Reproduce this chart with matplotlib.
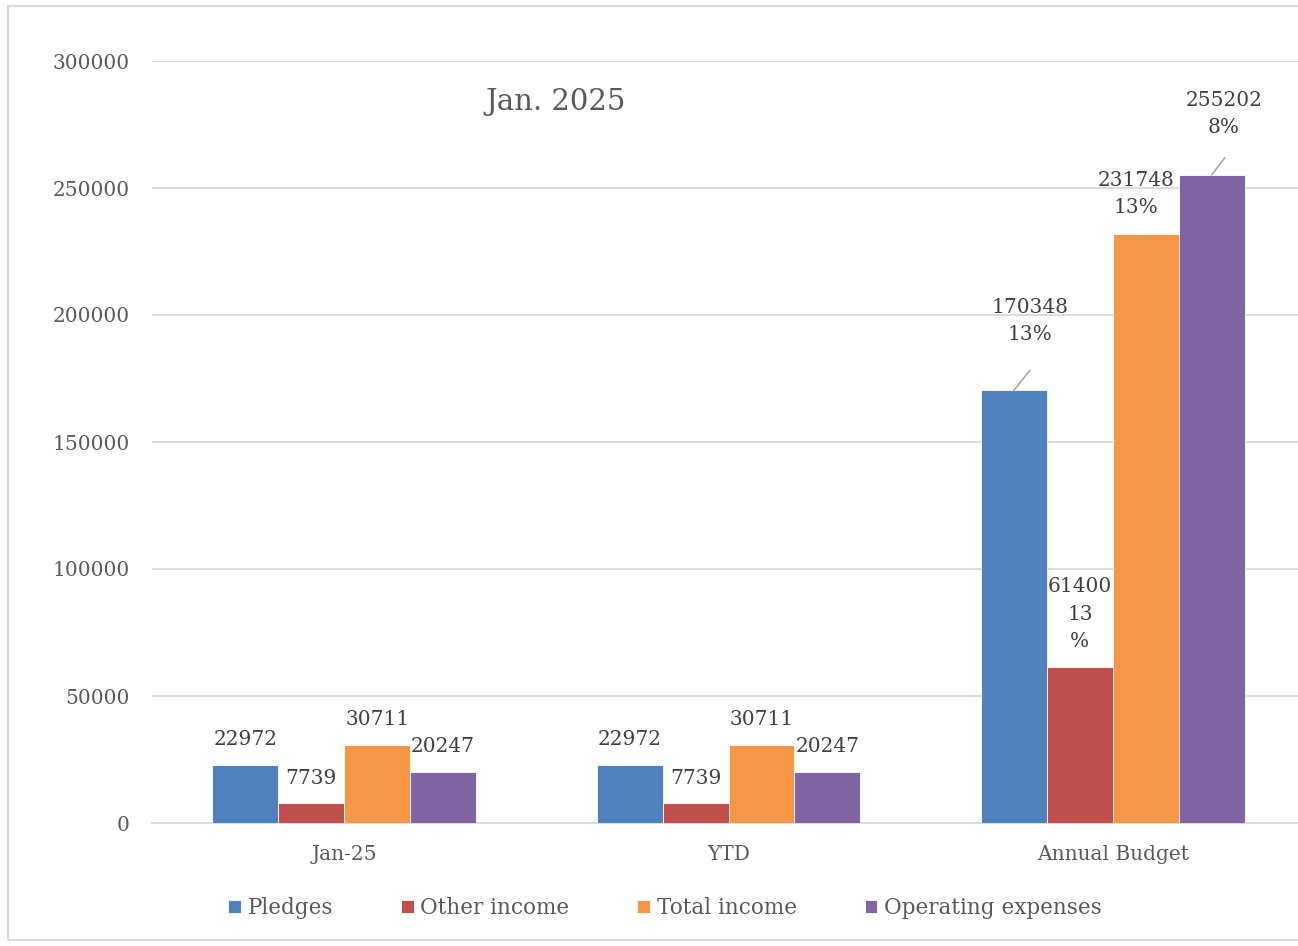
import matplotlib
matplotlib.use("Agg")
import matplotlib.pyplot as plt
import numpy as np
from matplotlib.patches import Rectangle

plt.rcParams['font.family'] = ['DejaVu Serif']

categories = ["Jan-25", "YTD", "Annual Budget"]
series = ["Pledges", "Other income", "Total income", "Operating expenses"]
pledges = [22972, 22972, 170348]
other_income = [7739, 7739, 61400]
total_income = [30711, 30711, 231748]
operating_expenses = [20247, 20247, 255202]
budget_pct = ["13%", "13%", "13%", "8%"]

colors = ["#4F81BD", "#C0504D", "#F79646", "#8064A2"]
grey = "#595959"

fig = plt.figure(figsize=(12.98, 9.46), dpi=100)
ax = fig.add_axes([152 / 1298, 123 / 946, 1153 / 1298, 762 / 946])

# chart border
fig.patches.append(Rectangle((8 / 1298, 6 / 946), 1.0, 934 / 946, transform=fig.transFigure,
                             fill=False, edgecolor="#D9D9D9", linewidth=1.5))

x = np.arange(len(categories))
w = 66 / 384.5
all_vals = [pledges, other_income, total_income, operating_expenses]
for i, vals in enumerate(all_vals):
    ax.bar(x + (i - 1.5) * w, vals, w, color=colors[i], label=series[i],
           edgecolor="white", linewidth=0.6, zorder=3)

# labels on the first two groups
for i, vals in enumerate(all_vals):
    for j in range(2):
        ax.annotate(str(vals[j]), (x[j] + (i - 1.5) * w, vals[j]), xytext=(0, 25),
                    textcoords="offset pixels", ha="center", va="center",
                    fontsize=14.5, color="#404040")

# annual budget labels (value + share)
text_off = [(16, 69), (0, 53), (-10, 40), (12, 61)]
line_off = [(16, 20), None, None, (13, 17)]
for i, vals in enumerate(all_vals):
    v = vals[2]
    pct = budget_pct[i]
    if i == 1:
        txt = "%d\n%s\n%s" % (v, pct[:-1], pct[-1])
    else:
        txt = "%d\n%s" % (v, pct)
    xb = x[2] + (i - 1.5) * w
    ax.annotate(txt, (xb, v), xytext=text_off[i], textcoords="offset pixels",
                ha="center", va="center", fontsize=14.5, color="#404040",
                linespacing=1.55, zorder=4)
    if line_off[i] is not None:
        ax.annotate("", (xb, v), xytext=line_off[i], textcoords="offset pixels",
                    arrowprops=dict(arrowstyle="-", color="#A6A6A6", lw=1.2,
                                    shrinkA=0, shrinkB=0))

ax.set_xlim(-0.5, 2.5)
ax.set_ylim(0, 300000)
ax.set_yticks(np.arange(0, 300001, 50000))
ax.set_xticks(x)
ax.set_xticklabels(categories)
ax.tick_params(axis="both", length=0, labelsize=14.5, colors=grey)
ax.tick_params(axis="y", pad=16)
ax.tick_params(axis="x", pad=16)
ax.grid(axis="y", color="#D9D9D9", linewidth=1.3, zorder=0)
for s in ["top", "right", "left"]:
    ax.spines[s].set_visible(False)
ax.spines["bottom"].set_color("#D9D9D9")
ax.spines["bottom"].set_linewidth(1.3)

fig.text(556 / 1298, 1 - 102 / 946, "Jan. 2025", ha="center", va="center",
         fontsize=21, color=grey)

fig.legend(loc="center", bbox_to_anchor=(665 / 1298, 38 / 946), ncol=4, frameon=False,
           fontsize=15.5, labelcolor=grey, handlelength=0.6, handleheight=0.6,
           handletextpad=0.3, columnspacing=3.15)

fig.savefig("out.png", dpi=100)
